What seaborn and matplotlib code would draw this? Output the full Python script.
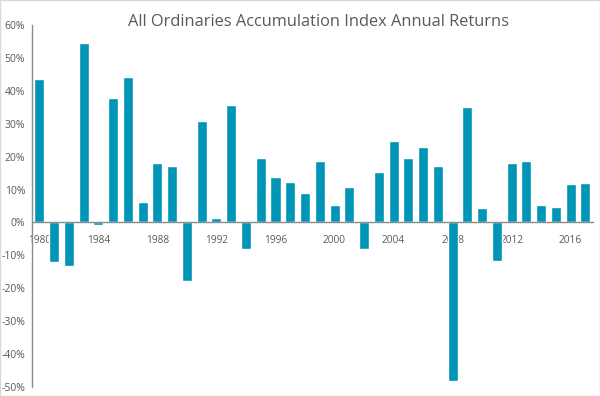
import matplotlib
matplotlib.use('Agg')
import matplotlib.pyplot as plt
import seaborn as sns
import pandas as pd
from matplotlib.patches import Rectangle

# данные
years = list(range(1980, 2018))
returns = [43.7, -12.0, -13.2, 54.6, -0.7, 37.9, 44.3, 6.2, 18.1, 17.1,
           -17.8, 30.7, 1.4, 35.6, -8.2, 19.7, 13.9, 12.3, 8.8, 18.6,
           5.3, 10.8, -8.2, 15.4, 24.8, 19.7, 23.0, 17.1, -48.3, 35.0,
           4.3, -11.6, 18.0, 18.8, 5.4, 4.7, 11.7, 11.9]
y_ticks = [60, 50, 40, 30, 20, 10, 0, -10, -20, -30, -40, -50]

df = pd.DataFrame({'year': [str(y) for y in years], 'ret': returns})

sns.set_style('white')
plt.rcParams['font.family'] = ['Open Sans', 'DejaVu Sans']
grey = '#595959'

fig = plt.figure(figsize=(6, 3.96), dpi=100)
ax = fig.add_axes([0.0533, 0.0227, 0.9347, 0.9143])
sns.barplot(data=df, x='year', y='ret', color='#0095B6', width=0.68,
            saturation=1, ax=ax)

ax.set_xlim(-0.5, len(years) - 0.5)
ax.set_ylim(-50, 60)
ax.set_xlabel('')
ax.set_ylabel('')

# подписи оси X каждые 4 года, засечки между категориями через 2
lab_pos = [i for i, y in enumerate(years) if y % 4 == 0]
ax.set_xticks(lab_pos)
ax.set_xticklabels([str(years[i]) for i in lab_pos])
ax.set_xticks([1.5 + 2 * k for k in range(19)], minor=True)
ax.tick_params(axis='x', which='major', length=0, pad=9, labelsize=7.3, labelcolor=grey)
ax.tick_params(axis='x', which='minor', length=4, width=0.8, color='#7f7f7f', direction='out')

ax.set_yticks(y_ticks)
ax.set_yticklabels([f'{v}%' for v in y_ticks])
ax.tick_params(axis='y', length=0, pad=5, labelsize=7.5, labelcolor=grey)

for s in ['top', 'right']:
    ax.spines[s].set_visible(False)
ax.spines['bottom'].set_position(('data', 0))
ax.spines['bottom'].set_color('#8c8c8c')
ax.spines['left'].set_color('#8c8c8c')
ax.spines['bottom'].set_linewidth(1)
ax.spines['left'].set_linewidth(1)

fig.text(0.53, 0.945, 'All Ordinaries Accumulation Index Annual Returns',
         ha='center', va='center', fontsize=11.8, color=grey)

fig.patches.append(Rectangle((0, 0), 1, 1, transform=fig.transFigure,
                             fill=False, edgecolor='#d9d9d9', linewidth=1))

fig.savefig('out.png', dpi=100)
